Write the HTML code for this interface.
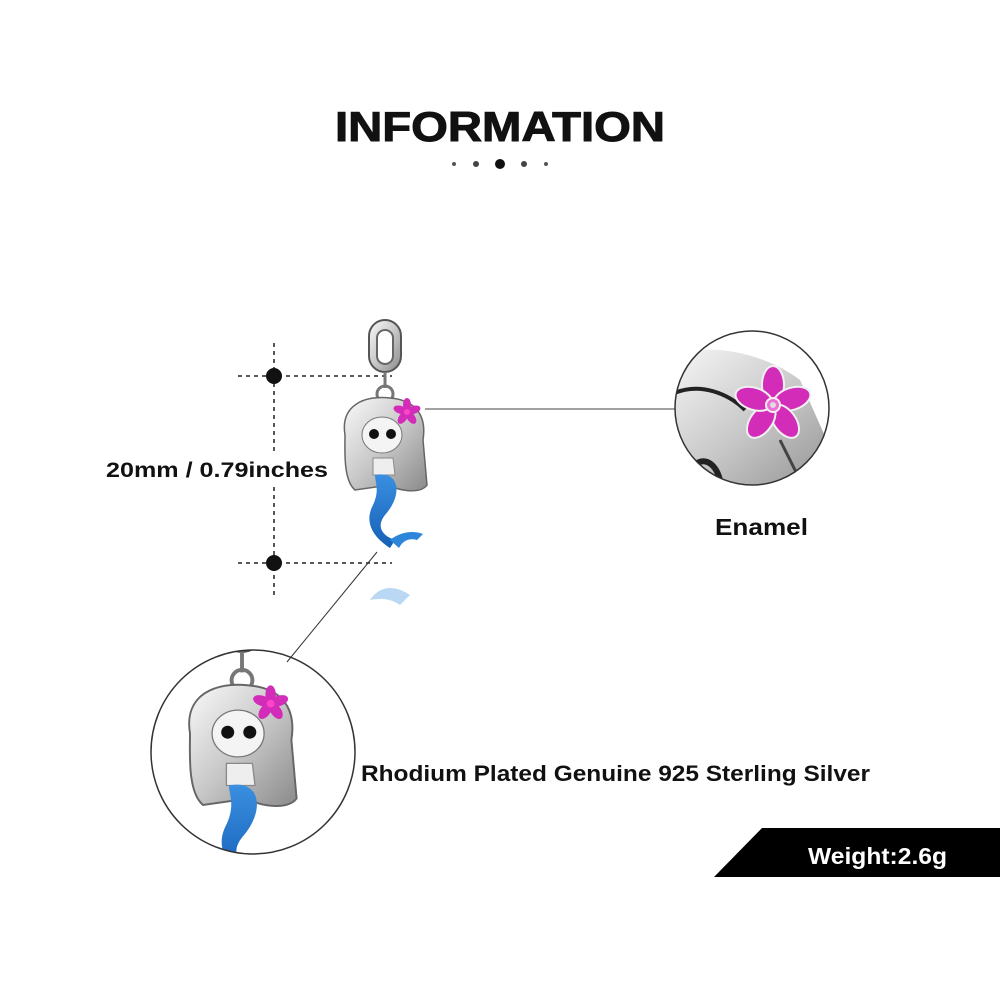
<!DOCTYPE html>
<html><head><meta charset="utf-8"><style>
html,body{margin:0;padding:0;background:#fff;}
svg{display:block;}
text{font-family:"Liberation Sans",Arial,sans-serif;font-weight:bold;fill:#111;}
</style></head><body>
<svg width="1000" height="1000" viewBox="0 0 1000 1000" xmlns="http://www.w3.org/2000/svg">
<defs>
<linearGradient id="sil" x1="0" y1="0" x2="1" y2="1"><stop offset="0" stop-color="#fafafa"/><stop offset="0.5" stop-color="#c8c8c8"/><stop offset="1" stop-color="#8a8a8a"/></linearGradient>
<linearGradient id="blu" x1="0" y1="0" x2="0" y2="1"><stop offset="0" stop-color="#3a8fe0"/><stop offset="1" stop-color="#1560b8"/></linearGradient>
<clipPath id="c1"><circle cx="752" cy="408" r="77"/></clipPath>
<clipPath id="c2"><circle cx="253" cy="752" r="102"/></clipPath>
<g id="merm">
 <rect x="-16" y="-120" width="32" height="52" rx="16" fill="url(#sil)" stroke="#555" stroke-width="2"/>
 <rect x="-8" y="-110" width="16" height="34" rx="8" fill="#fff" stroke="#666" stroke-width="2"/>
 <line x1="0" y1="-68" x2="0" y2="-52" stroke="#777" stroke-width="3"/>
 <circle cx="0" cy="-46" r="8" fill="none" stroke="#777" stroke-width="3"/>
 <path d="M-40,-5 C-45,-35 -20,-45 5,-42 C30,-40 42,-25 38,0 L42,45 C35,55 10,50 5,45 L-30,50 C-42,40 -40,10 -40,-5Z" fill="url(#sil)" stroke="#666" stroke-width="1.5"/>
 <ellipse cx="-3" cy="-5" rx="20" ry="18" fill="#f4f4f4" stroke="#777"/>
 <circle cx="-11" cy="-6" r="5" fill="#111"/><circle cx="6" cy="-6" r="5" fill="#111"/>
 <path d="M-12,18 L8,18 L10,35 L-12,35Z" fill="#eee" stroke="#888"/>
 <path d="M-10,35 C15,30 18,55 0,75 C-8,85 -5,95 10,100 L5,108 C-15,95 -20,80 -12,65 C-5,50 -10,42 -10,35Z" fill="url(#blu)"/>
 <path d="M5,100 C15,92 28,90 38,94 L32,100 C25,98 18,100 14,108Z" fill="#2d86da"/>
 <g transform="translate(22,-28)" fill="#d22cb8">
  <ellipse cx="0" cy="-7" rx="4" ry="7"/><ellipse cx="0" cy="-7" rx="4" ry="7" transform="rotate(72)"/><ellipse cx="0" cy="-7" rx="4" ry="7" transform="rotate(144)"/><ellipse cx="0" cy="-7" rx="4" ry="7" transform="rotate(216)"/><ellipse cx="0" cy="-7" rx="4" ry="7" transform="rotate(288)"/>
  <circle r="3" fill="#f4c"/>
 </g>
</g>
</defs>
<text x="335" y="141" font-size="42" textLength="330" lengthAdjust="spacingAndGlyphs" style="font-weight:900;stroke:#111;stroke-width:1">INFORMATION</text>
<circle cx="454" cy="164" r="2" fill="#555"/><circle cx="476" cy="164" r="3" fill="#444"/><circle cx="500" cy="164" r="5" fill="#111"/><circle cx="524" cy="164" r="3" fill="#444"/><circle cx="546" cy="164" r="2" fill="#555"/>
<g stroke="#222" stroke-width="1.5" stroke-dasharray="4,4" fill="none">
<line x1="238" y1="376" x2="392" y2="376"/><line x1="238" y1="563" x2="392" y2="563"/>
<line x1="274" y1="343" x2="274" y2="452"/><line x1="274" y1="487" x2="274" y2="596"/>
</g>
<circle cx="274" cy="376" r="8" fill="#111"/><circle cx="274" cy="563" r="8" fill="#111"/>
<text x="106" y="477" font-size="21" textLength="222" lengthAdjust="spacingAndGlyphs">20mm / 0.79inches</text>
<use href="#merm" transform="translate(385,440)"/>
<g opacity="0.35"><path d="M370,600 C380,585 395,585 410,595 L400,605 C390,598 380,598 370,600Z" fill="#3a8fe0"/></g>
<line x1="425" y1="409" x2="676" y2="409" stroke="#444" stroke-width="1"/>
<line x1="377" y1="552" x2="287" y2="662" stroke="#333" stroke-width="1"/>
<g clip-path="url(#c1)">
 <rect x="670" y="330" width="165" height="160" fill="#fff"/>
 <path d="M660,360 C700,340 760,350 800,380 L840,470 L790,500 L700,500 L660,480Z" fill="url(#sil)"/>
 <path d="M670,395 C700,380 730,395 745,410" stroke="#222" stroke-width="4" fill="none"/>
 <path d="M690,470 C700,455 715,460 720,480" stroke="#222" stroke-width="6" fill="none"/>
 <path d="M780,440 C795,470 805,490 810,500" stroke="#444" stroke-width="3" fill="none"/>
 <g transform="translate(773,405)" fill="#d22cb8" stroke="#f0f0f0" stroke-width="2">
  <ellipse cx="0" cy="-20" rx="11" ry="19"/><ellipse cx="0" cy="-20" rx="11" ry="19" transform="rotate(72)"/><ellipse cx="0" cy="-20" rx="11" ry="19" transform="rotate(144)"/><ellipse cx="0" cy="-20" rx="11" ry="19" transform="rotate(216)"/><ellipse cx="0" cy="-20" rx="11" ry="19" transform="rotate(288)"/>
  <circle r="7" fill="#f06fd6"/><circle r="3" fill="#ddd" stroke="none"/>
 </g>
</g>
<circle cx="752" cy="408" r="77" fill="none" stroke="#333" stroke-width="1.5"/>
<text x="715" y="535" font-size="23" textLength="93" lengthAdjust="spacingAndGlyphs">Enamel</text>
<g clip-path="url(#c2)">
 <use href="#merm" transform="translate(242,740) scale(1.3)"/>
</g>
<circle cx="253" cy="752" r="102" fill="none" stroke="#333" stroke-width="1.5"/>
<text x="361" y="781" font-size="22" textLength="509" lengthAdjust="spacingAndGlyphs">Rhodium Plated Genuine 925 Sterling Silver</text>
<polygon points="762,828 1000,828 1000,877 714,877" fill="#000"/>
<text x="808" y="864" font-size="23" textLength="139" lengthAdjust="spacingAndGlyphs" style="fill:#fff">Weight:2.6g</text>
</svg>
</body></html>
